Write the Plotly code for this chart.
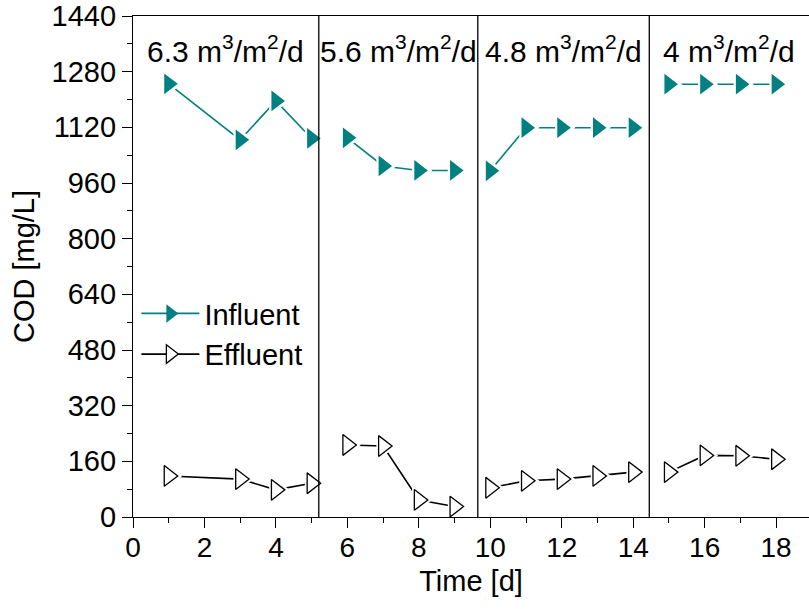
import plotly.graph_objects as go

# Sampling days and COD readings (mg/L)
days = [1, 3, 4, 5, 6, 7, 8, 9, 10, 11, 12, 13, 14, 15, 16, 17, 18]
influent = [1245, 1084, 1196, 1088, 1090, 1009, 996, 996, 995, 1119, 1119, 1119, 1119, 1244, 1244, 1244, 1244]
effluent = [118, 109, 78, 97, 207, 204, 49, 30, 84, 104, 109, 118, 129, 129, 177, 176, 166]

# Hydraulic loading periods: boundaries between phases and their labels
boundaries = [5.2, 9.65, 14.45]
loading_rates = ["6.3", "5.6", "4.8", "4"]

X_MAX = 18.92
Y_MAX = 1440
TEAL = "#008080"
FONT = "Liberation Sans"
MSIZE = 18


def split_periods(x, y):
    edges = [float("-inf")] + boundaries + [float("inf")]
    groups = []
    for lo, hi in zip(edges[:-1], edges[1:]):
        gx = [a for a in x if lo < a < hi]
        gy = [b for a, b in zip(x, y) if lo < a < hi]
        groups.append((gx, gy))
    return groups


fig = go.Figure()

series = [
    ("Influent", influent, TEAL, dict(color=TEAL, line=dict(width=0))),
    ("Effluent", effluent, "black", dict(color="white", line=dict(color="black", width=1.3))),
]

# connecting lines, one segment chain per loading period
for name, vals, col, _ in series:
    for gx, gy in split_periods(days, vals):
        fig.add_trace(go.Scatter(x=gx, y=gy, mode="lines", line=dict(color=col, width=1.6),
                                 showlegend=False, hoverinfo="skip"))

# white halos leave a small gap between lines and symbols
for name, vals, col, _ in series:
    fig.add_trace(go.Scatter(x=days, y=vals, mode="markers",
                             marker=dict(symbol="triangle-right", size=MSIZE + 9, color="white",
                                         line=dict(width=0)),
                             showlegend=False, hoverinfo="skip"))

# symbols
for name, vals, col, mk in series:
    fig.add_trace(go.Scatter(x=days, y=vals, mode="markers", name=name,
                             marker=dict(symbol="triangle-right", size=MSIZE, **mk),
                             showlegend=False))

# legend entries
for name, vals, col, mk in series:
    fig.add_trace(go.Scatter(x=[None], y=[None], mode="lines+markers", name=name,
                             line=dict(color=col, width=1.6),
                             marker=dict(symbol="triangle-right", size=MSIZE, **mk)))

# phase dividers
for b in boundaries:
    fig.add_shape(type="line", x0=b, x1=b, y0=0, y1=Y_MAX, xref="x", yref="y",
                  line=dict(color="black", width=1.3), layer="above")

# loading-rate labels centred in each phase
edges = [0] + boundaries + [X_MAX]
for lo, hi, rate in zip(edges[:-1], edges[1:], loading_rates):
    fig.add_annotation(x=(lo + hi) / 2, y=1345, xref="x", yref="y",
                       text=f"{rate} m<sup>3</sup>/m<sup>2</sup>/d", showarrow=False,
                       font=dict(family=FONT, size=30, color="black"),
                       xanchor="center", yanchor="middle")

tick_font = dict(family=FONT, size=28, color="black")
axis_common = dict(
    showgrid=False, zeroline=False, showline=True, linecolor="black", linewidth=1.3,
    ticks="outside", ticklen=10, tickwidth=1.3, tickcolor="black",
)

fig.update_xaxes(range=[0, X_MAX], dtick=2, tick0=0, mirror=True, tickfont=tick_font,
                 ticklabelstandoff=-5,
                 minor=dict(dtick=1, ticks="outside", ticklen=5, tickwidth=1.3, tickcolor="black"),
                 title=dict(text="Time [d]", font=dict(family=FONT, size=29, color="black"), standoff=8),
                 **axis_common)
fig.update_yaxes(range=[0, Y_MAX], dtick=160, tick0=0, tickfont=dict(tick_font, size=29),
                 minor=dict(dtick=80, ticks="outside", ticklen=5, tickwidth=1.3, tickcolor="black"),
                 title=dict(text="COD [mg/L]", font=dict(family=FONT, size=29, color="black"), standoff=8),
                 **axis_common)

fig.update_layout(
    width=809, height=609,
    margin=dict(l=133, r=0, t=16, b=92),
    paper_bgcolor="white", plot_bgcolor="white",
    font=dict(family=FONT, size=28, color="black"),
    showlegend=True,
    legend=dict(x=0.005, y=0.457, xanchor="left", yanchor="top",
                font=dict(family=FONT, size=29, color="black"),
                bgcolor="rgba(0,0,0,0)", tracegroupgap=0, itemwidth=58),
)

fig.write_html("out.html")
